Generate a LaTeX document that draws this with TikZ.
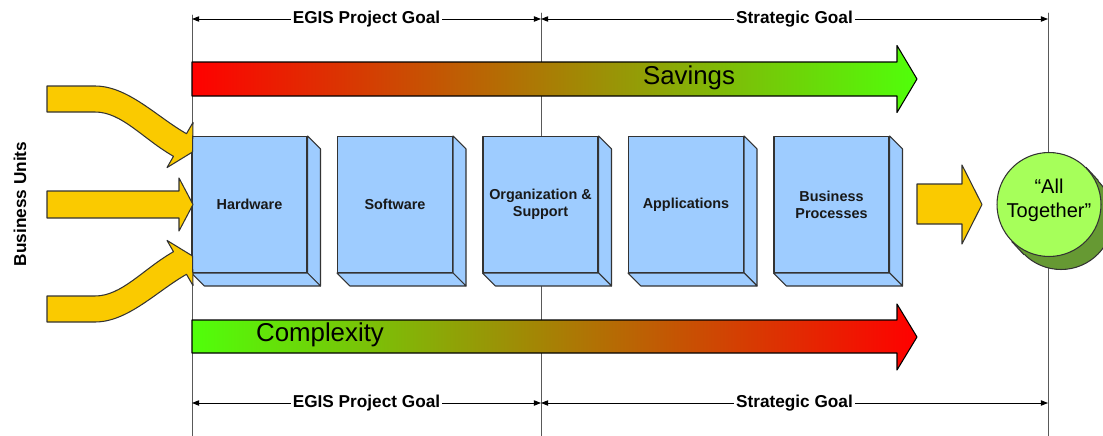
\documentclass[tikz,border=0pt]{standalone}
\usepackage{fontspec}
\setmainfont{Liberation Sans}
\usetikzlibrary{arrows.meta}

\definecolor{boxblue}{RGB}{158,204,255}
\definecolor{feedyellow}{RGB}{250,202,0}
\definecolor{barred}{RGB}{255,0,0}
\definecolor{barolive}{RGB}{128,126,0}
\definecolor{bargreen}{RGB}{80,255,10}
\definecolor{alllight}{RGB}{166,255,90}
\definecolor{alldark}{RGB}{102,153,51}

\begin{document}
\begin{tikzpicture}[line cap=round,line join=round,x=0.02cm,y=-0.02cm,
	guide/.style={line width=0.5pt,color=black!65},
	dimline/.style={line width=0.5pt,{Triangle[length=4pt,width=3pt]}-{Triangle[length=4pt,width=3pt]}},
	dimlabel/.style={fill=white,inner sep=1pt,font=\fontsize{9.8}{11}\selectfont\bfseries},
	blockbox/.style={draw=black!80,line width=0.6pt,fill=boxblue,minimum width=2.3cm,minimum height=2.72cm,inner sep=0pt,align=center,text=black!90,font=\fontsize{8.2}{9.6}\selectfont\bfseries},
	boxface/.style={draw=black!80,line width=0.6pt,fill=boxblue},
	feed/.style={draw=black!80,line width=0.6pt,fill=feedyellow},
	bar/.style={draw=black,line width=0.6pt},
	bartext/.style={inner sep=0pt,font=\fontsize{14.7}{16}\selectfont}]
			\useasboundingbox (0,0) rectangle (1103,436);
			%%%%%%%%%%%%%%% G U I D E S %%%%%%%%%%%%%%%%
			\coordinate (gA1) at (192,15);
			\coordinate (gA2) at (192,436);
			\coordinate (gB1) at (541,13);
			\coordinate (gB2) at (541,436);
			\coordinate (gC1) at (1048,13);
			\coordinate (gC2) at (1048,436);
			\draw [guide] (gA1) -- (gA2);
			\draw [guide] (gB1) -- (gB2);
			\draw [guide] (gC1) -- (gC2);
			%top goals
			\coordinate (tA) at (192,19);
			\coordinate (tB) at (541,19);
			\coordinate (tC) at (1048,19);
			\draw [dimline] (tA) -- node[dimlabel] (tEgis) {EGIS Project Goal} (tB);
			\draw [dimline] (tB) -- node[dimlabel] (tStrat) {Strategic Goal} (tC);
			%bottom goals
			\coordinate (bA) at (192,403);
			\coordinate (bB) at (541,403);
			\coordinate (bC) at (1048,403);
			\draw [dimline] (bA) -- node[dimlabel] (bEgis) {EGIS Project Goal} (bB);
			\draw [dimline] (bB) -- node[dimlabel] (bStrat) {Strategic Goal} (bC);
			%%%%%%%%%%%%%%% B A R S %%%%%%%%%%%%%%%%
			%savings
			\shadedraw [bar,left color=barred,middle color=barolive,right color=bargreen] (192,62) -- (897,62) -- (897,45.5) -- (917,79) -- (897,112.5) -- (897,96) -- (192,96) -- cycle;
			\node [bartext] (sav) at (689,78) {Savings};
			%complexity
			\shadedraw [bar,left color=bargreen,middle color=barolive,right color=barred] (192,320) -- (897,320) -- (897,304) -- (917,337) -- (897,370) -- (897,353) -- (192,353) -- cycle;
			\node [bartext] (cpx) at (320,335) {Complexity};
			%%%%%%%%%%%%%%% B O X E S %%%%%%%%%%%%%%%%
			\foreach \nm/\cx/\txt in {hw/249.5/Hardware, sw/395/Software, org/540.5/{Organization \&\\Support}, app/686/Applications, bp/831.5/{Business\\Processes}} {
				\node [blockbox] (\nm) at (\cx,204.5) {\txt};
				\draw [boxface] (\nm.north east) -- ++(13,13) -- ([shift={(13,13)}]\nm.south east) -- (\nm.south east) -- cycle;
				\draw [boxface] (\nm.south west) -- (\nm.south east) -- ([shift={(13,13)}]\nm.south east) -- ([shift={(13,13)}]\nm.south west) -- cycle;
			}
			%%%%%%%%%%%%%%% F E E D S %%%%%%%%%%%%%%%%
			%upper
			\draw [feed] (47,86) -- (95,86) .. controls (128,86) and (157,117) .. (186.5,133.7) -- (193,122.4) -- (192.5,152) -- (167,167.6) -- (173.5,156.3) .. controls (143,139) and (122,112) .. (95,112) -- (47,112) -- cycle;
			%middle
			\draw [feed] (47,191) -- (179,191) -- (179,178) -- (193,204.5) -- (179,231) -- (179,218) -- (47,218) -- cycle;
			%lower
			\draw [feed] (47,322) -- (95,322) .. controls (128,322) and (157,291) .. (186.5,274.3) -- (193,285.6) -- (192.5,256) -- (167,240.4) -- (173.5,251.7) .. controls (143,269) and (122,296) .. (95,296) -- (47,296) -- cycle;
			%out
			\draw [feed] (917,184) -- (962,184) -- (962,165) -- (982,204.5) -- (962,244) -- (962,224) -- (917,224) -- cycle;
			%%%%%%%%%%%%%%% A L L %%%%%%%%%%%%%%%%
			\node [circle,draw=black!80,line width=0.6pt,fill=alldark,minimum size=2.08cm,inner sep=0pt] (allback) at (1061,217.5) {};
			\fill [alldark] (1049,204.5) ++(36.8,-36.8) -- ++(12,13) -- ++(-73.6,73.6) -- ++(-12,-13) -- cycle;
			\node [circle,draw=black!80,line width=0.6pt,fill=alllight,minimum size=2.08cm,inner sep=0pt] (all) at (1049,204.5) {};
			\draw [line width=0.6pt,black!80] (all.45) -- (allback.45);
			\draw [line width=0.6pt,black!80] (all.225) -- (allback.225);
			\node [align=center,inner sep=0pt,font=\fontsize{11.4}{13.6}\selectfont] (allt) at (1049,200) {“All\\Together”};
			%T A G S
			\node [rotate=90,font=\fontsize{9.8}{11}\selectfont\bfseries] (bu) at (20,204) {Business Units};
\end{tikzpicture}
\end{document}
